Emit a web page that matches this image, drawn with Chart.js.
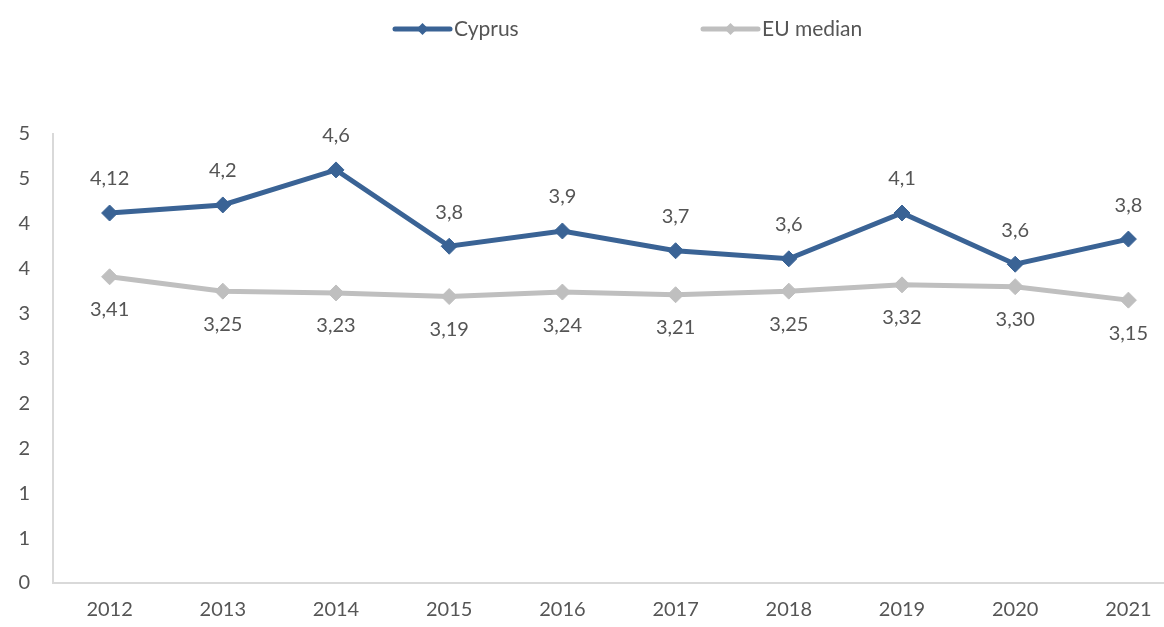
<!DOCTYPE html>
<html>
<head>
<meta charset="utf-8">
<script src="https://cdn.jsdelivr.net/npm/chart.js@4/dist/chart.umd.min.js"></script>
<style>
  html, body { margin: 0; padding: 0; background: #fff; overflow: hidden; }
  #wrap { width: 1194px; height: 627px; }
</style>
</head>
<body>
<div id="wrap"><canvas id="chart" width="1194" height="627"></canvas></div>
<script>
// Data
const years = ['2012', '2013', '2014', '2015', '2016', '2017', '2018', '2019', '2020', '2021'];
const cyprusValues = [4.12, 4.21, 4.6, 3.75, 3.92, 3.7, 3.61, 4.12, 3.55, 3.83];
const cyprusLabels = ['4,12', '4,2', '4,6', '3,8', '3,9', '3,7', '3,6', '4,1', '3,6', '3,8'];
const euValues = [3.41, 3.25, 3.23, 3.19, 3.24, 3.21, 3.25, 3.32, 3.30, 3.15];
const euLabels = ['3,41', '3,25', '3,23', '3,19', '3,24', '3,21', '3,25', '3,32', '3,30', '3,15'];
const yTickLabels = ['0', '1', '1', '2', '2', '3', '3', '4', '4', '5', '5'];

const blue = '#3A6395';
const grey = '#BFBFBF';
const textColor = '#555555';
const fontFamily = 'Lato, "Open Sans", sans-serif';

// Value labels: above for Cyprus, below for EU median
const valueLabels = {
  id: 'valueLabels',
  afterDatasetsDraw(chart) {
    const ctx = chart.ctx;
    ctx.save();
    ctx.font = '20px ' + fontFamily;
    ctx.fillStyle = textColor;
    ctx.textAlign = 'center';
    ctx.textBaseline = 'middle';
    chart.data.datasets.forEach((ds, i) => {
      const meta = chart.getDatasetMeta(i);
      meta.data.forEach((pt, j) => {
        const off = ds.labelPos === 'above' ? -34 : 33;
        ctx.fillText(ds.valueLabels[j], pt.x, pt.y + off);
      });
    });
    ctx.restore();
  }
};

// Legend drawn like Excel: line sample with a diamond in the middle
const lineLegend = {
  id: 'lineLegend',
  afterDraw(chart) {
    const ctx = chart.ctx;
    const items = [
      { x: 395, ds: chart.data.datasets[0] },
      { x: 703, ds: chart.data.datasets[1] }
    ];
    const y = 29;
    ctx.save();
    items.forEach(it => {
      ctx.strokeStyle = it.ds.borderColor;
      ctx.lineWidth = 5;
      ctx.lineCap = 'round';
      ctx.beginPath();
      ctx.moveTo(it.x, y);
      ctx.lineTo(it.x + 55, y);
      ctx.stroke();
      ctx.fillStyle = it.ds.borderColor;
      ctx.beginPath();
      const cx = it.x + 27.5;
      ctx.moveTo(cx - 6, y);
      ctx.lineTo(cx, y - 6);
      ctx.lineTo(cx + 6, y);
      ctx.lineTo(cx, y + 6);
      ctx.closePath();
      ctx.fill();
      ctx.font = '21px ' + fontFamily;
      ctx.fillStyle = textColor;
      ctx.textAlign = 'left';
      ctx.textBaseline = 'middle';
      ctx.fillText(it.ds.label, it.x + 59, y);
    });
    ctx.restore();
  }
};

new Chart(document.getElementById('chart'), {
  type: 'line',
  data: {
    labels: years,
    datasets: [
      {
        label: 'Cyprus',
        data: cyprusValues,
        valueLabels: cyprusLabels,
        labelPos: 'above',
        borderColor: blue,
        backgroundColor: blue,
        borderWidth: 5,
        pointStyle: 'rectRot',
        pointRadius: 8,
        pointBorderWidth: 1,
        tension: 0
      },
      {
        label: 'EU median',
        data: euValues,
        valueLabels: euLabels,
        labelPos: 'below',
        borderColor: grey,
        backgroundColor: grey,
        borderWidth: 5,
        pointStyle: 'rectRot',
        pointRadius: 8,
        pointBorderWidth: 1,
        tension: 0
      }
    ]
  },
  options: {
    responsive: false,
    animation: false,
    layout: { padding: { top: 134, right: 6, left: 0, bottom: 0 } },
    plugins: {
      legend: { display: false },
      tooltip: { enabled: false }
    },
    scales: {
      x: {
        offset: true,
        grid: { display: false, drawTicks: false },
        border: { display: true, color: '#D9D9D9', width: 2 },
        ticks: { color: textColor, font: { family: fontFamily, size: 20 }, padding: 15, maxRotation: 0 },
        afterFit(scale) { scale.height = 44; }
      },
      y: {
        min: 0,
        max: 5,
        grid: { display: false, drawTicks: false },
        border: { display: true, color: '#D9D9D9', width: 2 },
        ticks: {
          stepSize: 0.5,
          color: textColor,
          font: { family: fontFamily, size: 20 },
          padding: 23,
          callback: (v, i) => yTickLabels[i]
        },
        afterFit(scale) { scale.width = 53; }
      }
    }
  },
  plugins: [valueLabels, lineLegend]
});
</script>
</body>
</html>
